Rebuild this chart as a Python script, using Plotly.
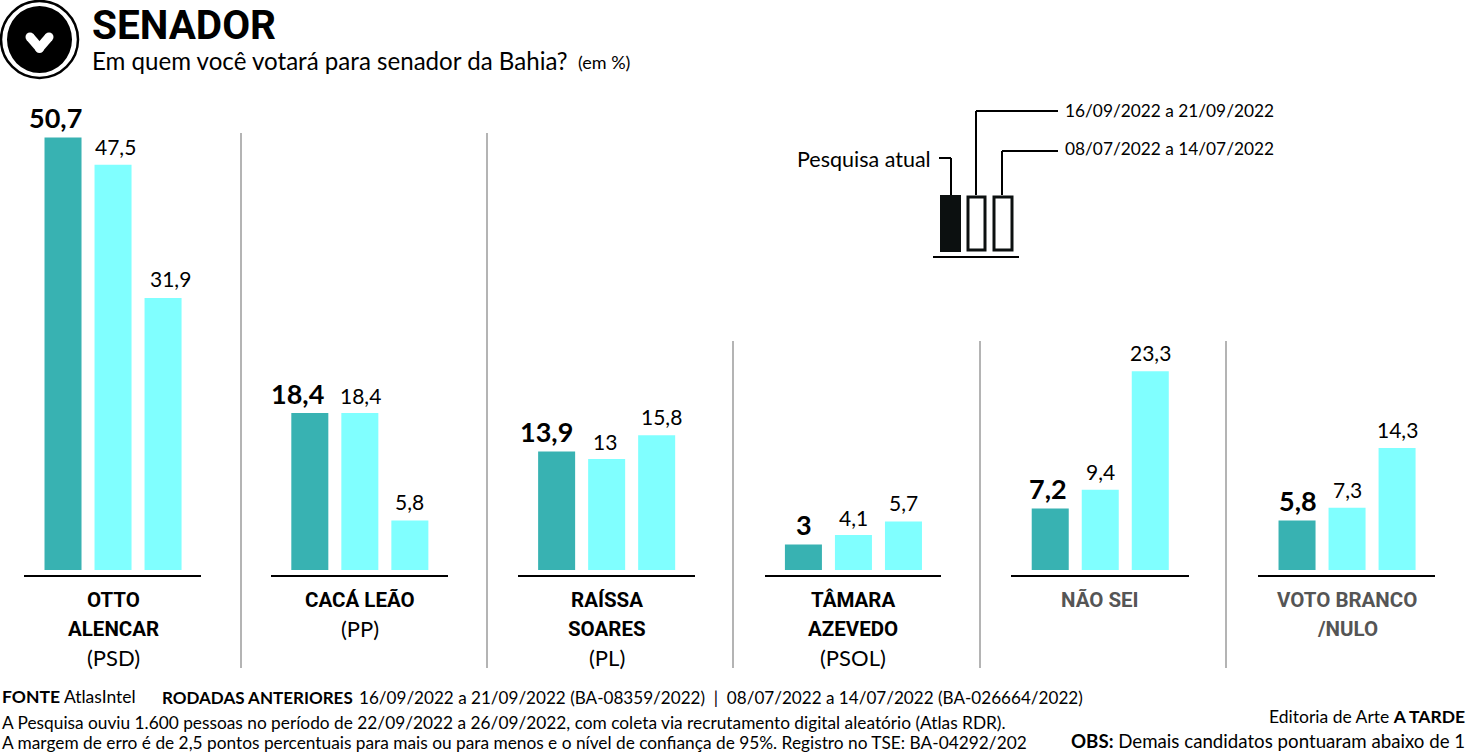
import plotly.graph_objects as go

W = 1467
H = 754
FONT = "Lato"
BOLD = "Roboto"

categories = ["OTTO ALENCAR", "CACÁ LEÃO", "RAÍSSA SOARES", "TÂMARA AZEVEDO", "NÃO SEI", "VOTO BRANCO /NULO"]
cat_names = [["OTTO", "ALENCAR"], ["CACÁ LEÃO"], ["RAÍSSA", "SOARES"], ["TÂMARA", "AZEVEDO"], ["NÃO SEI"], ["VOTO BRANCO", "/NULO"]]
cat_parties = ["(PSD)", "(PP)", "(PL)", "(PSOL)", "", ""]
cat_colors = ["#000000", "#000000", "#000000", "#000000", "#555555", "#555555"]
atual = [50.7, 18.4, 13.9, 3, 7.2, 5.8]
setembro = [47.5, 18.4, 13, 4.1, 9.4, 7.3]
julho = [31.9, 5.8, 15.8, 5.7, 23.3, 14.3]


def px(x):
    return x / W


def py(y):
    return 1 - y / H


def fmt(v):
    return f"{v:g}".replace(".", ",")


def line(x0, y0, x1, y1, color="#000000", width=2):
    return dict(type="line", xref="paper", yref="paper", x0=px(x0), y0=py(y0), x1=px(x1), y1=py(y1),
                line=dict(color=color, width=width))


def rect(x0, y0, x1, y1, fill="rgba(0,0,0,0)", width=3):
    return dict(type="rect", xref="paper", yref="paper", x0=px(x0), y0=py(y0), x1=px(x1), y1=py(y1),
                fillcolor=fill, line=dict(color="#0c1010", width=width))


def circle(x0, y0, x1, y1, fill, color="#000000", width=0):
    return dict(type="circle", xref="paper", yref="paper", x0=px(x0), y0=py(y0), x1=px(x1), y1=py(y1),
                fillcolor=fill, line=dict(color=color, width=width))


def note(x, y, text, size, anchor="left", color="#000000", family=FONT):
    return dict(xref="paper", yref="paper", x=px(x), y=py(y), text=text, showarrow=False, xanchor=anchor,
                yanchor="middle", align=anchor, borderpad=0, font=dict(family=family, size=size, color=color))


fig = go.Figure()
for vals, color in [(atual, "#38b2b2"), (setembro, "#80ffff"), (julho, "#80ffff")]:
    fig.add_trace(go.Bar(x=categories, y=vals, marker=dict(color=color, line=dict(width=0)), cliponaxis=False))

shapes = []
# baselines under each group
for x0, x1 in [(24, 201), (271, 448), (518, 695), (765, 941), (1011, 1189), (1258, 1435)]:
    shapes.append(line(x0, 576, x1, 576))
# group separators
for x, top in [(241, 133), (487, 133), (733, 341), (980, 341), (1226, 341)]:
    shapes.append(line(x, top, x, 668, "#8c8c8c", 1.3))

# icon
shapes.append(circle(1, 1, 78, 78, "white", "#000000", 2.5))
shapes.append(circle(7, 6, 72, 73, "#000000"))
shapes.append(line(30, 37, 39.5, 48, "#ffffff", 9))
shapes.append(line(39.5, 48, 49, 37, "#ffffff", 9))
shapes.append(circle(25.5, 32.5, 34.5, 41.5, "#ffffff"))
shapes.append(circle(44.5, 32.5, 53.5, 41.5, "#ffffff"))
shapes.append(circle(35, 44, 44, 53, "#ffffff"))

# key
shapes.append(rect(941, 196, 960, 251, "#0c1010", 2))
shapes.append(rect(968, 197, 985, 250))
shapes.append(rect(994, 197, 1012, 250))
shapes.append(line(933, 257, 1019, 257))
shapes.append(line(939, 158, 951, 158))
shapes.append(line(951, 158, 951, 195))
shapes.append(line(976, 111, 976, 195))
shapes.append(line(976, 111, 1058, 111))
shapes.append(line(1002, 151, 1002, 195))
shapes.append(line(1002, 151, 1058, 151))

notes = [
    note(91, 25, "<b>SENADOR</b>", 40.5, family=BOLD),
    note(91, 61, "Em quem você votará para senador da Bahia?", 24.1),
    note(577, 62, "(em %)", 18),
    note(796, 159, "Pesquisa atual", 21.5),
    note(1064, 111, "16/09/2022 a 21/09/2022", 17.3),
    note(1064, 149, "08/07/2022 a 14/07/2022", 17.3),
    note(1, 696, "<b>FONTE</b> AtlasIntel", 17.5),
    note(161, 697, "<b>RODADAS ANTERIORES</b>", 17),
    note(358, 697, "16/09/2022 a 21/09/2022 (BA-08359/2022)  |  08/07/2022 a 14/07/2022 (BA-026664/2022)", 17.1),
    note(1, 722, "A Pesquisa ouviu 1.600 pessoas no período de 22/09/2022 a 26/09/2022, com coleta via recrutamento digital aleatório (Atlas RDR).", 17.3),
    note(1, 742, "A margem de erro é de 2,5 pontos percentuais para mais ou para menos e o nível de confiança de 95%. Registro no TSE: BA-04292/202", 17.3),
    note(1466, 716, "Editoria de Arte <b>A TARDE</b>", 17.5, "right"),
    note(1466, 741, "<b>OBS:</b> Demais candidatos pontuaram abaixo de 1", 18.7, "right"),
]

# value labels, nudged sideways like the reference where they sit off-centre
series_labels = [
    (atual, -50, [-8, -12, -10, 1, -2, 1], 20, 27, True),
    (setembro, 0, [2, 1, -2, 0, 0, 0], 18, 21, False),
    (julho, 50, [7, 0, 5, 0, 0, 0], 19, 21, False),
]
for vals, offset, nudges, lift, size, bold in series_labels:
    for cat, v, nudge in zip(categories, vals, nudges):
        notes.append(dict(xref="x", yref="y", x=cat, y=v, text=f"<b>{fmt(v)}</b>" if bold else fmt(v), showarrow=False,
                          xshift=offset + nudge, yshift=lift, yanchor="middle", borderpad=0,
                          font=dict(family=FONT, size=size, color="#000000")))

# category labels, one annotation per line to keep the 29px leading
for cat, names, party, color in zip(categories, cat_names, cat_parties, cat_colors):
    lines = [(n, True) for n in names]
    if party:
        lines.append((party, False))
    for i, (txt, bold) in enumerate(lines):
        notes.append(dict(xref="x", yref="paper", x=cat, y=py(600 + i * 28.5), showarrow=False, yanchor="middle",
                          text=f"<b>{txt}</b>" if bold else txt, borderpad=0,
                          font=dict(family=BOLD if bold else FONT, size=20.5 if bold else 22, color=color)))

fig.update_layout(
    width=W,
    height=H,
    margin=dict(l=0, r=0, t=0, b=0),
    paper_bgcolor="white",
    plot_bgcolor="white",
    showlegend=False,
    barmode="group",
    bargap=0.392,
    bargroupgap=0.26,
    xaxis=dict(visible=False, type="category", range=[-0.458, 5.486]),
    yaxis=dict(visible=False, range=[-21.57, 66.82]),
    shapes=shapes,
    annotations=notes,
)
fig.write_html("out.html", config={"displayModeBar": False}, post_script="document.body.style.margin = '0';")
